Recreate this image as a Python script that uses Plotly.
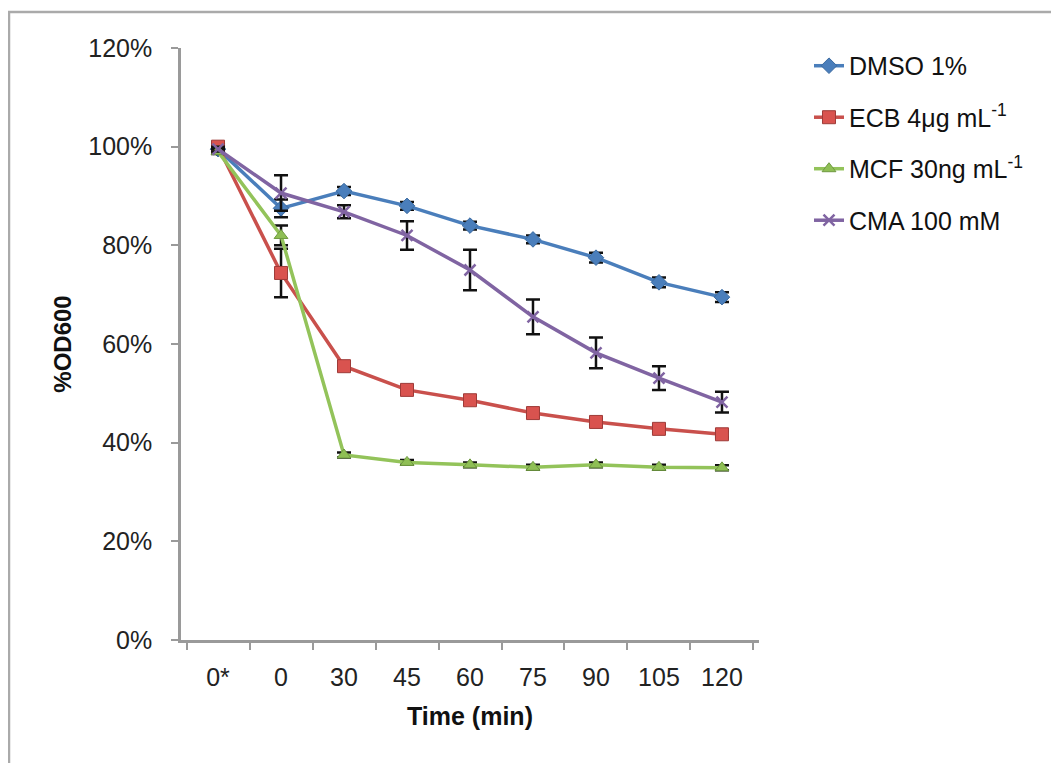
import plotly.graph_objects as go

categories = ["0*", "0", "30", "45", "60", "75", "90", "105", "120"]

dmso = [99.5, 87.5, 91.0, 88.0, 84.0, 81.2, 77.5, 72.5, 69.5]
dmso_err = [0.5, 1.8, 0.8, 0.8, 0.8, 0.8, 1.0, 1.0, 1.0]

ecb = [100.0, 74.4, 55.5, 50.7, 48.6, 46.0, 44.2, 42.8, 41.7]
ecb_err = [0.5, 4.9, 0.8, 0.8, 0.6, 0.6, 0.6, 0.6, 0.6]

mcf = [99.0, 82.0, 37.5, 36.0, 35.5, 35.0, 35.5, 35.0, 34.9]
mcf_err = [0.5, 2.0, 0.5, 0.5, 0.5, 0.5, 0.5, 0.5, 0.5]

cma = [99.5, 90.6, 86.8, 82.0, 75.0, 65.5, 58.2, 53.1, 48.2]
cma_err = [0.5, 3.6, 1.3, 2.9, 4.1, 3.5, 3.1, 2.4, 2.1]

y_ticks = [0, 20, 40, 60, 80, 100, 120]
y_tick_labels = ["0%", "20%", "40%", "60%", "80%", "100%", "120%"]

series = [
    ("DMSO 1%", dmso, dmso_err, "#4a7ebb", dict(symbol="diamond", size=12, color="#4a7ebb", line=dict(color="#3a6aa0", width=1))),
    ("ECB 4μg mL<sup>-1</sup>", ecb, ecb_err, "#c9504c", dict(symbol="square", size=13, color="#d9534f", line=dict(color="#9e3b38", width=1))),
    ("MCF 30ng mL<sup>-1</sup>", mcf, mcf_err, "#93c35a", dict(symbol="triangle-up", size=12, color="#8fbf55", line=dict(color="#6f9a40", width=1))),
    ("CMA 100 mM", cma, cma_err, "#8064a2", dict(symbol="x-thin", size=11, color="#8064a2", line=dict(color="#8064a2", width=2.5))),
]

fig = go.Figure()
for i, (name, vals, errs, col, mk) in enumerate(series):
    fig.add_trace(go.Scatter(
        x=categories, y=vals, name=name, mode="lines+markers",
        line=dict(color=col, width=3.5), marker=mk,
        legendgroup=f"g{i}",
        error_y=dict(type="data", array=errs, visible=True, color="#111111", thickness=2.5, width=7),
    ))

font_family = "Liberation Sans, Arial, sans-serif"

fig.update_layout(
    width=1059, height=763,
    margin=dict(l=173, r=308, t=40, b=131),
    paper_bgcolor="white", plot_bgcolor="white",
    font=dict(family=font_family, size=25, color="#222222"),
    showlegend=True,
    legend=dict(x=1.0865, y=1.0085, xanchor="left", yanchor="top",
                font=dict(size=25, color="#111111"), tracegroupgap=16,
                traceorder="grouped", bgcolor="rgba(0,0,0,0)"),
    xaxis=dict(type="category", categoryorder="array", categoryarray=categories,
               tickson="boundaries", ticks="outside", ticklen=7, tickwidth=2,
               tickcolor="#9a9a9a", showline=True, linecolor="#9a9a9a", linewidth=2.5,
               showgrid=False, zeroline=False, ticklabelstandoff=13,
               tickfont=dict(size=25, color="#222222"),
               title=dict(text="<b>Time (min)</b>", font=dict(size=25, color="#111111"), standoff=18)),
    yaxis=dict(range=[0, 120], tickvals=y_ticks, ticktext=y_tick_labels,
               ticks="outside", ticklen=7, tickwidth=2, tickcolor="#9a9a9a",
               showline=True, linecolor="#9a9a9a", linewidth=2.5,
               showgrid=False, zeroline=False, ticklabelstandoff=14,
               tickfont=dict(size=25, color="#222222"),
               title=dict(text="<b>%OD600</b>", font=dict(size=24, color="#111111"), standoff=10)),
)

# outer frame (cropped at right and bottom)
fig.add_shape(type="rect", xref="paper", yref="paper",
              x0=(1 - 173) / 578, x1=2.0, y0=-1.0, y1=(632 - 4) / 592,
              line=dict(color="#aaaaaa", width=2.5), fillcolor="rgba(0,0,0,0)", layer="below")

fig.write_html("out.html")
